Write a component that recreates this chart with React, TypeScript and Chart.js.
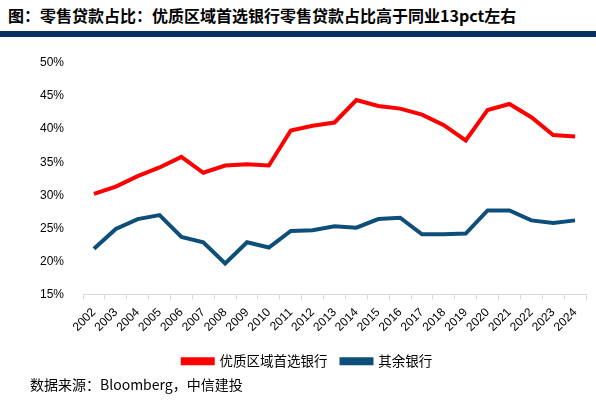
import React, { useEffect, useRef } from "react";
import { Chart, registerables } from "chart.js";

Chart.register(...registerables);

const years = [
  "2002", "2003", "2004", "2005", "2006", "2007", "2008", "2009", "2010", "2011", "2012",
  "2013", "2014", "2015", "2016", "2017", "2018", "2019", "2020", "2021", "2022", "2023", "2024",
];

const premiumBanks = [
  30.2, 31.3, 32.9, 34.2, 35.8, 33.4, 34.5, 34.7, 34.5, 39.8, 40.5,
  41.0, 44.4, 43.5, 43.1, 42.2, 40.6, 38.3, 42.9, 43.8, 41.8, 39.1, 38.9,
];

const otherBanks = [
  21.9, 24.9, 26.4, 27.0, 23.7, 22.9, 19.7, 22.9, 22.1, 24.6, 24.7,
  25.3, 25.1, 26.4, 26.6, 24.1, 24.1, 24.2, 27.7, 27.7, 26.2, 25.8, 26.2,
];

const seriesNames = ["优质区域首选银行", "其余银行"];
const yTicks = [15, 20, 25, 30, 35, 40, 45, 50];

const titleText = "图：零售贷款占比：优质区域首选银行零售贷款占比高于同业13pct左右";
const sourceText = "数据来源：Bloomberg，中信建投";

export default function App() {
  const canvasRef = useRef<HTMLCanvasElement | null>(null);

  useEffect(() => {
    if (!canvasRef.current) return;
    const chart = new Chart(canvasRef.current, {
      type: "line",
      data: {
        labels: years,
        datasets: [
          {
            label: seriesNames[0],
            data: premiumBanks,
            borderColor: "#ff0000",
            backgroundColor: "#ff0000",
            borderWidth: 4,
            pointRadius: 0,
            tension: 0,
          },
          {
            label: seriesNames[1],
            data: otherBanks,
            borderColor: "#0e4e7a",
            backgroundColor: "#0e4e7a",
            borderWidth: 4,
            pointRadius: 0,
            tension: 0,
          },
        ],
      },
      options: {
        animation: false,
        responsive: false,
        maintainAspectRatio: false,
        layout: { padding: { left: 29, right: 10, top: 19, bottom: 6 } },
        plugins: {
          tooltip: { enabled: false },
          legend: {
            position: "bottom",
            labels: {
              boxWidth: 30,
              boxHeight: 4,
              color: "#000",
              padding: 14,
              font: { family: "'Noto Sans CJK SC'", size: 13.5 },
            },
          },
        },
        scales: {
          x: {
            offset: true,
            grid: {
              display: true,
              drawOnChartArea: false,
              drawTicks: true,
              tickLength: 5,
              color: "#d9d9d9",
              offset: true,
            },
            border: { display: true, color: "#d9d9d9", width: 1 },
            ticks: {
              minRotation: 45,
              maxRotation: 45,
              autoSkip: false,
              color: "#000",
              padding: 6,
              font: { family: "'Liberation Sans', Arial", size: 12 },
            },
          },
          y: {
            min: 15,
            max: 50,
            afterBuildTicks: (axis: any) => {
              axis.ticks = yTicks.map((v) => ({ value: v }));
            },
            grid: { display: false },
            border: { display: false },
            ticks: {
              padding: 11,
              color: "#000",
              font: { family: "'Liberation Sans', Arial", size: 12 },
              callback: (v: any) => `${v}%`,
            },
          },
        },
      },
    });
    return () => chart.destroy();
  }, []);

  return (
    <div
      style={{
        position: "absolute",
        left: 0,
        top: 0,
        width: 596,
        height: 406,
        background: "#fff",
        overflow: "hidden",
      }}
    >
      <div
        style={{
          position: "absolute",
          left: 8,
          top: 4,
          fontFamily: "'Noto Sans CJK SC'",
          fontWeight: "bold",
          fontSize: 16,
          lineHeight: "22px",
          color: "#000",
          whiteSpace: "nowrap",
        }}
      >
        {titleText}
      </div>
      <div
        style={{
          position: "absolute",
          left: 0,
          top: 31,
          width: 596,
          height: 6,
          background: "#0a3163",
        }}
      />
      <canvas
        ref={canvasRef}
        width={596}
        height={340}
        style={{ position: "absolute", left: 0, top: 44, width: 596, height: 340 }}
      />
      <div
        style={{
          position: "absolute",
          left: 30,
          top: 374,
          fontFamily: "'Noto Sans CJK SC'",
          fontSize: 14,
          lineHeight: "20px",
          color: "#000",
          whiteSpace: "nowrap",
        }}
      >
        {sourceText}
      </div>
    </div>
  );
}
